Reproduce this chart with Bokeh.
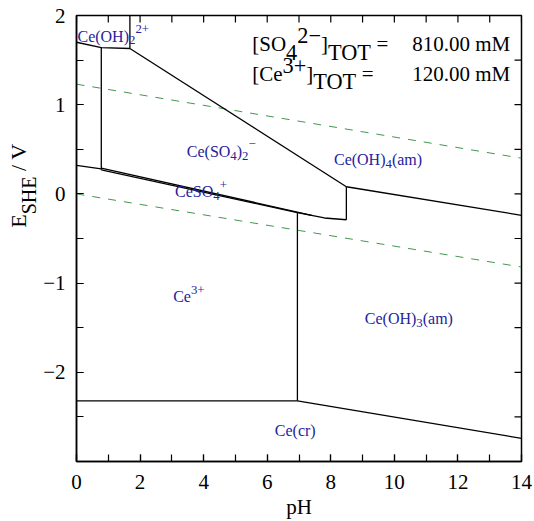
import math
from bokeh.plotting import figure
from bokeh.layouts import row
from bokeh.models import Range1d, FixedTicker, Label
from bokeh.embed import file_html
from bokeh.resources import INLINE

# ---------------- data (pH, E_SHE / V) ----------------
ph_ceoh2_low = [0.0, 0.78, 1.68]
e_ceoh2_low = [1.70, 1.64, 1.63]
ph_ceoh2_vert = [1.68, 1.68]
e_ceoh2_vert = [2.0, 1.63]
ph_ceiv_slope = [1.68, 8.49]
e_ceiv_slope = [1.63, 0.08]
ph_left_vert = [0.78, 0.78]
e_left_vert = [1.64, 0.27]
ph_ce3_left = [0.0, 0.78]
e_ce3_left = [0.32, 0.28]
ph_band_upper = [0.78, 7.40]
e_band_upper = [0.29, -0.24]
ph_band_lower = [0.78, 6.95]
e_band_lower = [0.27, -0.21]
ph_ceoh3_top = [6.95, 7.80, 8.49]
e_ceoh3_top = [-0.21, -0.27, -0.29]
ph_mid_vert = [8.49, 8.49]
e_mid_vert = [-0.29, 0.08]
ph_ceoh4_ceoh3 = [8.49, 14.0]
e_ceoh4_ceoh3 = [0.08, -0.24]
ph_ce3_ceoh3 = [6.95, 6.95]
e_ce3_ceoh3 = [-0.21, -2.32]
ph_cecr = [0.0, 6.95, 14.0]
e_cecr = [-2.32, -2.32, -2.74]
ph_water = [0.0, 14.0]
e_water_o2 = [1.23, 0.40]
e_water_h2 = [0.0, -0.82]

x_major = [0, 2, 4, 6, 8, 10, 12, 14]
x_minor = list(range(0, 15))
y_major = [-2, -1, 0, 1, 2]
y_minor = [-3, -2.5, -2, -1.5, -1, -0.5, 0, 0.5, 1, 1.5, 2]
y_tick_labels = {-2: "\u22122", -1: "\u22121", 0: "0", 1: "1", 2: "2"}

species_labels = [
    # x, y(baseline), parts
    (0.03, 1.77, [("Ce(OH)", "n"), ("2", "sub"), ("2+", "sup")]),
    (3.47, 0.48, [("Ce(SO", "n"), ("4", "sub"), (")", "n"), ("2", "sub"), ("\u2212", "sup")]),
    (3.10, 0.03, [("CeSO", "n"), ("4", "sub"), ("+", "sup")]),
    (8.10, 0.39, [("Ce(OH)", "n"), ("4", "sub"), ("(am)", "n")]),
    (3.04, -1.15, [("Ce", "n"), ("3+", "sup")]),
    (9.07, -1.40, [("Ce(OH)", "n"), ("3", "sub"), ("(am)", "n")]),
    (6.24, -2.65, [("Ce(cr)", "n")]),
]
legend_lines = [
    (5.53, 1.68, [("[SO", "n"), ("4", "sub"), ("2\u2212", "sup"), ("]", "n"), ("TOT", "sub"), ("\u00a0=", "n")], "810.00 mM"),
    (5.53, 1.345, [("[Ce", "n"), ("3+", "sup"), ("]", "n"), ("TOT", "sub"), ("\u00a0=", "n")], "120.00 mM"),
]
y_title_parts = [("E", "n"), ("SHE", "sub"), ("\u00a0/ V", "n")]
x_title = "pH"

FONT = "Liberation Serif"
BLUE = "#23239c"
TICK_PX = 7

W = {'C': 667, 'e': 444, '(': 333, ')': 333, 'O': 722, 'H': 722, 'S': 556, 'a': 444,
     'm': 778, 'r': 333, 'c': 444, '[': 333, ']': 333, 'T': 611, ' ': 250, '\u00a0': 250,
     '=': 564, '.': 250, 'M': 889, '+': 564, '\u2212': 564, 'E': 611, '/': 278, 'V': 722}


def tw(s, size):
    return sum(W.get(ch, 500) for ch in s) / 1000.0 * size


LABEL_W = 40
MAIN_W = 534 - LABEL_W
MAIN_H = 521
FRAME_L, FRAME_R, FRAME_T, FRAME_B = 76, 521, 15, 462

p = figure(width=MAIN_W, height=MAIN_H, output_backend="svg", toolbar_location=None,
           title=None, x_range=Range1d(0, 14), y_range=Range1d(-3, 2),
           min_border_left=FRAME_L - LABEL_W, min_border_right=534 - FRAME_R,
           min_border_top=FRAME_T, min_border_bottom=MAIN_H - FRAME_B)
p.xgrid.visible = False
p.ygrid.visible = False
p.outline_line_color = "black"
p.outline_line_width = 1.5
p.background_fill_color = "white"
p.border_fill_color = "white"


def style_axis(ax):
    ax.axis_line_color = "black"
    ax.axis_line_width = 1.5
    ax.major_tick_in = TICK_PX
    ax.major_tick_out = 0
    ax.minor_tick_in = TICK_PX
    ax.minor_tick_out = 0
    ax.major_tick_line_color = "black"
    ax.minor_tick_line_color = "black"
    ax.major_tick_line_width = 1.2
    ax.minor_tick_line_width = 1.2
    ax.major_label_text_font = FONT
    ax.major_label_text_color = "black"
    ax.major_label_text_font_size = "21px"


xa = p.xaxis[0]
xa.ticker = FixedTicker(ticks=x_major, minor_ticks=x_minor)
style_axis(xa)
xa.major_label_standoff = 13
xa.axis_label = x_title
xa.axis_label_text_font = FONT
xa.axis_label_text_font_size = "21px"
xa.axis_label_text_font_style = "normal"
xa.axis_label_text_color = "black"
xa.axis_label_standoff = 3
ya = p.yaxis[0]
ya.ticker = FixedTicker(ticks=y_major, minor_ticks=y_minor)
ya.major_label_overrides = y_tick_labels
style_axis(ya)
ya.major_label_standoff = 11

# inward tick marks on the top and right frame edges (TICK_PX long)
x_len = TICK_PX * (p.x_range.end - p.x_range.start) / (FRAME_R - FRAME_L)
y_len = TICK_PX * (p.y_range.end - p.y_range.start) / (FRAME_B - FRAME_T)
p.segment(x0=x_minor, y0=[p.y_range.end] * len(x_minor),
          x1=x_minor, y1=[p.y_range.end - y_len] * len(x_minor),
          line_color="black", line_width=1.2)
p.segment(x0=[p.x_range.end] * len(y_minor), y0=y_minor,
          x1=[p.x_range.end - x_len] * len(y_minor), y1=y_minor,
          line_color="black", line_width=1.2)

# water lines
p.line(ph_water, e_water_o2, line_color="#2f8a3a", line_width=0.9, line_dash="8 8")
p.line(ph_water, e_water_h2, line_color="#2f8a3a", line_width=0.9, line_dash="8 8")

for xs, ys in [(ph_ceoh2_low, e_ceoh2_low), (ph_ceoh2_vert, e_ceoh2_vert),
               (ph_ceiv_slope, e_ceiv_slope), (ph_left_vert, e_left_vert),
               (ph_ce3_left, e_ce3_left), (ph_band_upper, e_band_upper),
               (ph_band_lower, e_band_lower), (ph_ceoh3_top, e_ceoh3_top),
               (ph_mid_vert, e_mid_vert), (ph_ceoh4_ceoh3, e_ceoh4_ceoh3),
               (ph_ce3_ceoh3, e_ce3_ceoh3), (ph_cecr, e_cecr)]:
    p.line(xs, ys, line_color="black", line_width=1.3)


def rich(fig, x, y, parts, size, color, small=0.8, start=0.0, sub=0.28, sup=0.42):
    off = start
    for txt, kind in parts:
        s = size if kind == "n" else size * small
        if kind == "sub":
            dy = -sub * size
        elif kind == "sup":
            dy = sup * size
        else:
            dy = 0
        fig.add_layout(Label(x=x, y=y, x_offset=off, y_offset=dy, text=txt,
                             text_font=FONT, text_font_size=f"{s:.1f}px",
                             text_color=color, text_baseline="alphabetic",
                             text_align="left"))
        off += tw(txt, s)
    return off


for x, y, parts in species_labels:
    rich(p, x, y, parts, 16, BLUE)

for x, y, parts, val in legend_lines:
    rich(p, x, y, parts, 21, "black", small=1.06, sub=0.38)
    rich(p, x, y, [(val, "n")], 21, "black", start=160)

# ---------------- y-axis title panel ----------------
q = figure(width=LABEL_W, height=MAIN_H, output_backend="svg", toolbar_location=None,
           title=None, x_range=Range1d(0, LABEL_W), y_range=Range1d(MAIN_H, 0),
           x_axis_type=None, y_axis_type=None,
           min_border_left=0, min_border_right=0, min_border_top=0, min_border_bottom=0)
q.xgrid.visible = False
q.ygrid.visible = False
q.outline_line_color = None
q.background_fill_color = "white"
q.border_fill_color = "white"

yoff = 0.0
for txt, kind in y_title_parts:
    s = 22 if kind == "n" else 20
    dx = 10 if kind == "sub" else 0
    q.add_layout(Label(x=18, y=248, x_offset=dx, y_offset=yoff, angle=math.pi / 2,
                       text=txt, text_font=FONT, text_font_size=f"{s}px",
                       text_color="black", text_baseline="alphabetic", text_align="left"))
    yoff += tw(txt, s)

layout = row(q, p, spacing=0)
open("out.html", "w").write(file_html(layout, INLINE))
